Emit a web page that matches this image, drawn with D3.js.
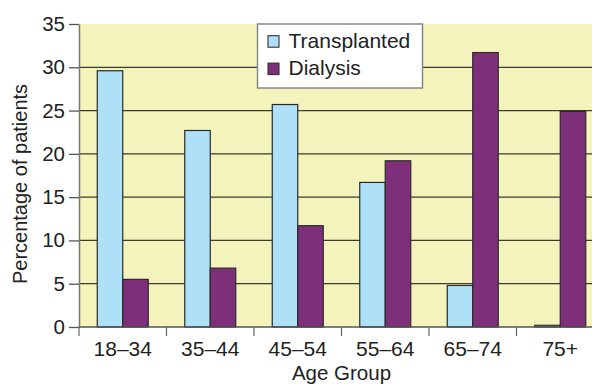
<!DOCTYPE html>
<html>
<head>
<meta charset="utf-8">
<script src="https://cdn.jsdelivr.net/npm/d3@7"></script>
<style>
  html, body { margin: 0; padding: 0; background: #fff; }
  svg { display: block; }
  text { font-family: "Liberation Sans", Arial, sans-serif; fill: #222; }
</style>
</head>
<body>
<svg id="chart" width="592" height="385"></svg>
<script>
// Share of patients by age group, transplant vs dialysis
const ageGroups = ["18–34", "35–44", "45–54", "55–64", "65–74", "75+"];
const transplanted = [29.6, 22.7, 25.7, 16.7, 4.8, 0.2];
const dialysis = [5.5, 6.8, 11.7, 19.2, 31.7, 24.9];
const seriesNames = ["Transplanted", "Dialysis"];
const seriesColors = ["#aee0f8", "#7d3079"];
const yTicks = [0, 5, 10, 15, 20, 25, 30, 35];

const svg = d3.select("#chart");
const plotLeft = 79, plotTop = 24, plotBottom = 327, plotRight = 604;

const x = d3.scaleBand().domain(ageGroups).range([plotLeft, plotRight]).padding(0);
const xs = d3.scaleBand().domain(seriesNames)
  .range([0, x.bandwidth()]).paddingInner(0).paddingOuter(0.716);
const y = d3.scaleLinear().domain([0, 35]).range([plotBottom, plotTop]);

// plot background
svg.append("rect")
  .attr("x", plotLeft).attr("y", plotTop)
  .attr("width", plotRight - plotLeft).attr("height", plotBottom - plotTop)
  .attr("fill", "#f3f3bb");

// horizontal grid lines
svg.append("g").selectAll("line")
  .data(yTicks.filter(d => d > 0 && d < 35))
  .join("line")
  .attr("x1", plotLeft).attr("x2", plotRight)
  .attr("y1", d => y(d)).attr("y2", d => y(d))
  .attr("stroke", "#3c3c30").attr("stroke-width", 1.3);

// bars
const rows = ageGroups.map((g, i) => ({ group: g, values: [transplanted[i], dialysis[i]] }));
const groups = svg.append("g").selectAll("g")
  .data(rows).join("g")
  .attr("transform", d => `translate(${x(d.group)},0)`);
groups.selectAll("rect")
  .data(d => d.values.map((v, j) => ({ name: seriesNames[j], value: v, color: seriesColors[j] })))
  .join("rect")
  .attr("x", d => xs(d.name))
  .attr("width", xs.bandwidth())
  .attr("y", d => y(d.value))
  .attr("height", d => plotBottom - y(d.value))
  .attr("fill", d => d.color)
  .attr("stroke", "#2a2a2a").attr("stroke-width", 1.2);

// y axis
const yAxis = svg.append("g")
  .attr("transform", `translate(${plotLeft},0)`)
  .call(d3.axisLeft(y).tickValues(yTicks).tickSize(10).tickPadding(4).tickSizeOuter(0));
yAxis.select(".domain").attr("stroke", "#777").attr("stroke-width", 1.5);
yAxis.selectAll(".tick line").attr("stroke", "#555").attr("stroke-width", 1.3);
yAxis.selectAll("text").attr("font-size", 20.5).attr("fill", "#222")
  .attr("font-family", "Liberation Sans, Arial, sans-serif");

// x axis: ticks at band boundaries, labels centred in bands
const xAxis = svg.append("g").attr("transform", `translate(0,${plotBottom})`);
xAxis.append("line").attr("x1", plotLeft).attr("x2", plotRight)
  .attr("stroke", "#555").attr("stroke-width", 1.5);
const bounds = ageGroups.map(g => x(g)).concat([plotRight]);
xAxis.selectAll(".bt").data(bounds).join("line")
  .attr("class", "bt")
  .attr("x1", d => d).attr("x2", d => d)
  .attr("y1", 0).attr("y2", 9)
  .attr("stroke", "#666").attr("stroke-width", 1.2);
xAxis.selectAll(".lbl").data(ageGroups).join("text")
  .attr("class", "lbl")
  .attr("x", d => x(d) + x.bandwidth() / 2)
  .attr("y", 29)
  .attr("text-anchor", "middle")
  .attr("font-size", 21)
  .text(d => d);

// axis titles
svg.append("text")
  .attr("x", (plotLeft + plotRight) / 2).attr("y", 380)
  .attr("text-anchor", "middle").attr("font-size", 20.5)
  .text("Age Group");
svg.append("text")
  .attr("transform", "translate(27,184) rotate(-90)")
  .attr("text-anchor", "middle").attr("font-size", 20)
  .text("Percentage of patients");

// legend
const legend = svg.append("g").attr("transform", "translate(257.5,24)");
legend.append("rect")
  .attr("width", 165).attr("height", 64)
  .attr("fill", "#fff").attr("stroke", "#888").attr("stroke-width", 1.5);
const items = legend.selectAll(".item").data(seriesNames).join("g")
  .attr("class", "item")
  .attr("transform", (d, i) => `translate(0,${23.7 + i * 27.4})`);
items.append("rect")
  .attr("x", 10.5).attr("y", -12).attr("width", 11).attr("height", 11.5)
  .attr("fill", (d, i) => seriesColors[i])
  .attr("stroke", "#333").attr("stroke-width", 1.1);
items.append("text")
  .attr("x", 31).attr("y", 0)
  .attr("font-size", 21)
  .text(d => d);
</script>
</body>
</html>
